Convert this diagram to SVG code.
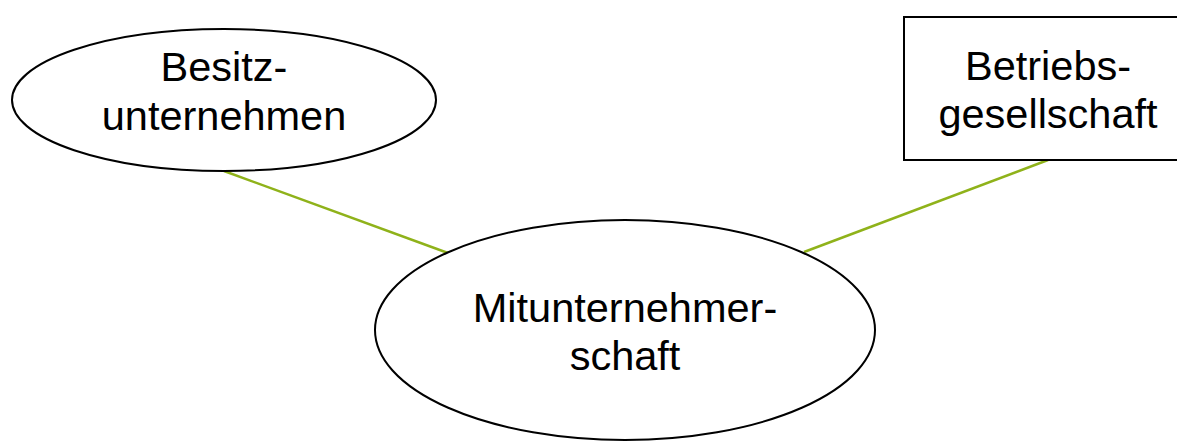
<svg xmlns="http://www.w3.org/2000/svg" width="1177" height="443" viewBox="0 0 1177 443">
<style>
.shape{fill:#fff;stroke:#000;stroke-width:2}
.lbl{font-family:"Liberation Sans",Arial,sans-serif;font-size:41.5px;fill:#000;text-anchor:middle}
.conn{stroke:#8fb21a;stroke-width:2.5;fill:none}
</style>
<rect width="1177" height="443" fill="#fff"/>
<g id="connectors">
<line class="conn" x1="224" y1="171" x2="448" y2="253"/>
<line class="conn" x1="1048" y1="160" x2="804" y2="252"/>
</g>
<g id="besitz">
<ellipse class="shape" cx="224" cy="100" rx="212" ry="71"/>
<text class="lbl" x="224" y="81">Besitz-</text>
<text class="lbl" x="224" y="130">unternehmen</text>
</g>
<g id="betrieb">
<rect class="shape" x="904" y="17" width="290" height="143"/>
<text class="lbl" x="1048" y="80">Betriebs-</text>
<text class="lbl" x="1048" y="128">gesellschaft</text>
</g>
<g id="mitunternehmer">
<ellipse class="shape" cx="625" cy="330" rx="250" ry="110"/>
<text class="lbl" x="625" y="322">Mitunternehmer-</text>
<text class="lbl" x="625" y="370">schaft</text>
</g>
</svg>
